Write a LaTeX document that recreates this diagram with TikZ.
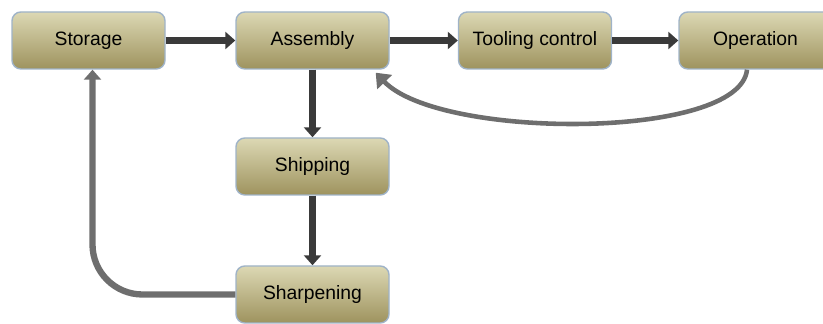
\documentclass[tikz,border=0pt]{standalone}
\usepackage{fontspec}
\setmainfont{Liberation Sans}
\usetikzlibrary{arrows.meta,positioning}
\usepackage{xcolor}
\definecolor{boxtop}{HTML}{DCD8B4}
\definecolor{boxbottom}{HTML}{9E935E}
\definecolor{boxline}{HTML}{9FB3C8}
\definecolor{flow}{HTML}{3A3A3A}
\definecolor{back}{HTML}{6E6E6E}

\begin{document}
\begin{tikzpicture}
      \tikzstyle{stage} = [rectangle, rounded corners=5pt, draw=boxline, line width=0.8pt, top color=boxtop, bottom color=boxbottom, minimum width=3.06cm, minimum height=1.14cm, inner sep=0pt, font=\fontsize{11}{13}\selectfont, text=black]
      \tikzstyle{flowarrow} = [-{Triangle[length=2mm,width=3.4mm]}, line width=3.6pt, draw=flow]

      \clip (0,0) rectangle (16.46,-6.48);

      \node[stage] (st) at (1.77,-0.81) {Storage};
      \node[stage] (as) at (6.25,-0.81) {Assembly};
      \node[stage] (tc) at (10.70,-0.81) {Tooling control};
      \node[stage] (op) at (15.11,-0.81) {Operation};
      \node[stage] (sh) at (6.25,-3.33) {Shipping};
      \node[stage] (sp) at (6.25,-5.89) {Sharpening};

      \draw[flowarrow] (st) -- (as);
      \draw[flowarrow] (as) -- (tc);
      \draw[flowarrow] (tc) -- (op);
      \draw[flowarrow] (as) -- (sh);
      \draw[flowarrow] (sh) -- (sp);
      \draw[flowarrow, draw=back, rounded corners=1cm] (sp.west) -| ([xshift=0.08cm]st.south);
      \draw[-{Triangle[length=2.6mm,width=4mm]}, draw=back, line width=2.6pt] ([xshift=-0.17cm]op.south) .. controls (14.8,-2.8) and (8.8,-2.8) .. ([xshift=-0.28cm,yshift=-0.06cm]as.south east);
    \end{tikzpicture}
\end{document}
